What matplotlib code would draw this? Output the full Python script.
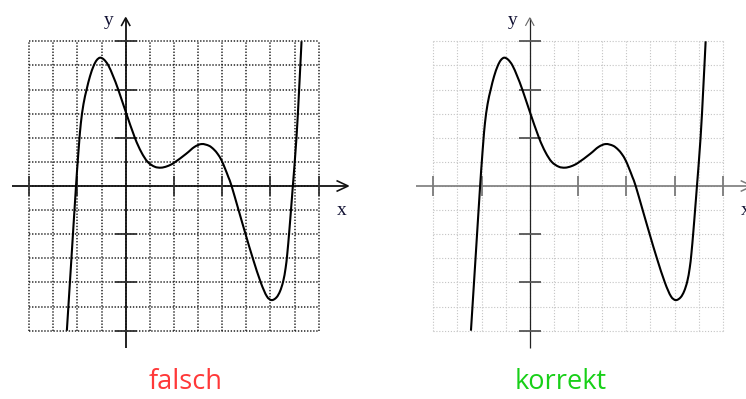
import matplotlib
matplotlib.use("Agg")
import matplotlib.pyplot as plt
from matplotlib.path import Path
from matplotlib.patches import PathPatch

# ---------------- data (grid cell units) ----------------
curve_x = [-2.44, -2.25, -2.06, -1.99, -1.93, -1.86, -1.75, -1.62, -1.48, -1.33,
           -1.20, -1.06, -0.90, -0.72, -0.52, -0.31, 0.00, 0.38, 0.65, 0.91,
           1.20, 1.46, 1.72, 2.00, 2.50, 2.85, 3.15, 3.45, 3.65, 3.82,
           3.97, 4.12, 4.26, 4.39, 4.68, 4.97, 5.27, 5.60, 5.85, 6.05,
           6.25, 6.40, 6.53, 6.63, 6.70, 6.78, 6.86, 6.93, 7.08, 7.19, 7.29]
curve_y = [-6.00, -3.00, 0.00, 1.00, 1.80, 2.60, 3.40, 4.00, 4.55, 4.98,
           5.22, 5.32, 5.24, 5.00, 4.55, 4.00, 3.08, 2.00, 1.40, 1.00,
           0.80, 0.76, 0.82, 0.96, 1.33, 1.62, 1.74, 1.67, 1.52, 1.32,
           1.07, 0.72, 0.36, 0.00, -1.00, -2.00, -3.00, -4.00, -4.57, -4.73,
           -4.62, -4.36, -3.95, -3.40, -2.80, -1.90, -0.90, 0.00, 2.00, 4.00, 6.00]

grid_x = [-4, -3, -2, -1, 0, 1, 2, 3, 4, 5, 6, 7, 8]
grid_y = [-6, -5, -4, -3, -2, -1, 0, 1, 2, 3, 4, 5, 6]
xticks = [-4, -2, 2, 4, 6, 8]
yticks = [-6, -4, -2, 2, 4, 6]
titles = ["falsch", "korrekt"]
title_colors = ["#ff3838", "#18d018"]

W, H = 746, 399
S = 24.12  # px per cell
fig = plt.figure(figsize=(W / 100, H / 100), dpi=100)


def smooth_path(xs, ys):
    """Catmull-Rom rendering of the read points as cubic Bezier segments."""
    pts = list(zip(xs, ys))
    verts = [pts[0]]
    codes = [Path.MOVETO]
    n = len(pts)
    for i in range(n - 1):
        p0 = pts[i - 1] if i > 0 else pts[i]
        p1 = pts[i]
        p2 = pts[i + 1]
        p3 = pts[i + 2] if i + 2 < n else pts[i + 1]
        c1 = (p1[0] + (p2[0] - p0[0]) / 6.0, p1[1] + (p2[1] - p0[1]) / 6.0)
        c2 = (p2[0] - (p3[0] - p1[0]) / 6.0, p2[1] - (p3[1] - p1[1]) / 6.0)
        verts += [c1, c2, p2]
        codes += [Path.CURVE4] * 3
    return Path(verts, codes)


def panel(left_px, origin_x, style):
    ax = fig.add_axes([left_px / W, 0, 373 / W, 1])
    ax.set_xlim((left_px - origin_x) / S, (left_px + 373 - origin_x) / S)
    ax.set_ylim((186 - H) / S, 186 / S)
    ax.axis("off")
    gx0, gx1 = grid_x[0], grid_x[-1]
    gy0, gy1 = grid_y[0], grid_y[-1]
    if style == "bad":
        gc, glw, gls = "#222222", 1.1, (0, (0.9, 1.1))
        axc_x, axc_y, alw_x, alw_y, tcx, tcy = "#111111", "#111111", 1.3, 1.3, "#333333", "#333333"
        arc = "#111111"
    else:
        gc, glw, gls = "#c4c4c4", 0.8, (0, (1.0, 1.6))
        axc_x, axc_y, alw_x, alw_y, tcx, tcy = "#7a7a7a", "#222222", 1.2, 0.9, "#7a7a7a", "#555555"
        arc = "#666666"
    for gx in grid_x:
        ax.plot([gx, gx], [gy0, gy1], color=gc, lw=glw, ls=gls, zorder=1)
    for gy in grid_y:
        ax.plot([gx0, gx1], [gy, gy], color=gc, lw=glw, ls=gls, zorder=1)
    # axes lines
    ax.plot([-4.71, 9.22], [0, 0], color=axc_x, lw=alw_x, zorder=2, clip_on=False,
            solid_capstyle="butt")
    ax.plot([0, 0], [-6.72, 6.97], color=axc_y, lw=alw_y, zorder=2, clip_on=False,
            solid_capstyle="butt")
    # arrow heads (open chevrons)
    ax.plot([8.77, 9.22, 8.77], [0.21, 0, -0.21], color=axc_x, lw=alw_x * 0.9,
            zorder=2, clip_on=False)
    ax.plot([-0.17, 0, 0.17], [6.66, 6.97, 6.66], color=arc,
            lw=alw_y * 0.9, zorder=2, clip_on=False)
    # ticks
    for t in xticks:
        ax.plot([t, t], [-0.42, 0.42], color=tcx, lw=1.3, zorder=2, clip_on=False,
                solid_capstyle="butt")
    for t in yticks:
        ax.plot([-0.45, 0.45], [t, t], color=tcy, lw=1.3, zorder=2, clip_on=False,
                solid_capstyle="butt")
    # curve
    patch = PathPatch(smooth_path(curve_x, curve_y), facecolor="none",
                      edgecolor="black", lw=1.5, zorder=3, clip_on=False,
                      joinstyle="round", capstyle="butt")
    ax.add_patch(patch)
    # labels
    ax.text(-0.72, 6.88, "y", family="Liberation Serif", fontsize=14,
            ha="center", va="center", color="#111133")
    ax.text(8.96, -1.0, "x", family="Liberation Serif", fontsize=14,
            ha="center", va="center", color="#111133", clip_on=False)
    return ax


ax1 = panel(0, 125.7, "bad")
ax2 = panel(373, 529.8, "good")

fig.text(186 / W, 1 - 382 / H, titles[0], color=title_colors[0], fontsize=19.5,
         family="Open Sans", ha="center", va="center")
fig.text(561 / W, 1 - 382 / H, titles[1], color=title_colors[1], fontsize=19.5,
         family="Open Sans", ha="center", va="center")

fig.savefig("out.png", dpi=100)
